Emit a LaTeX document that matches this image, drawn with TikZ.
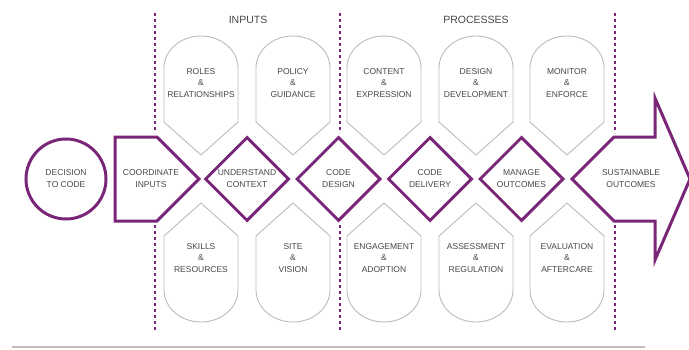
\documentclass[tikz,border=0pt]{standalone}
\usepackage{fontspec}
\setmainfont{Liberation Sans}
\usetikzlibrary{shapes.geometric, positioning}
\definecolor{codepurple}{RGB}{122,38,120}
\definecolor{shieldgray}{RGB}{190,184,190}
\definecolor{labelgray}{RGB}{70,70,70}
\tikzstyle{stage} = [draw=codepurple, line width=3pt, inner sep=0pt, text centered, align=center, text=labelgray, font=\fontsize{8.5}{12}\selectfont]
\tikzstyle{stagediamond} = [stage, diamond, minimum size=84]
\tikzstyle{stagetext} = [inner sep=0pt, align=center, text=labelgray, font=\fontsize{8.5}{12}\selectfont]
\tikzstyle{shieldline} = [draw=shieldgray, line width=0.9pt, line join=round]
\tikzstyle{shieldtext} = [inner sep=0pt, align=center, text=labelgray, font=\fontsize{8.5}{11.5}\selectfont]
\tikzstyle{heading} = [inner sep=0pt, text=labelgray, font=\fontsize{10.5}{12}\selectfont]
\tikzstyle{divider} = [draw=codepurple, line width=1.2pt, dash pattern=on 3pt off 3pt]
\tikzstyle{outline} = [draw=codepurple, line width=3pt, line join=miter]

\begin{document}
\begin{tikzpicture}[x=1pt, y=1pt]
\useasboundingbox (0,0) rectangle (689,349);

% headings
\node (inputs) [heading] at (248,329) {INPUTS};
\node (processes) [heading] at (476,329) {PROCESSES};

% upper shields
\foreach \x/\name/\txt in {201/roles/{ROLES\\\&\\RELATIONSHIPS}, 293/policy/{POLICY\\\&\\GUIDANCE}, 384/content/{CONTENT\\\&\\EXPRESSION}, 476/designdev/{DESIGN\\\&\\DEVELOPMENT}, 567/monitor/{MONITOR\\\&\\ENFORCE}} {
  \draw [shieldline] (\x-37,227) -- (\x-37,281) arc[start angle=180, end angle=0, x radius=37, y radius=32] -- (\x+37,227) -- (\x,194) -- cycle;
  \node (\name) [shieldtext] at (\x,266) {\txt};
}

% lower shields
\foreach \x/\name/\txt in {201/skills/{SKILLS\\\&\\RESOURCES}, 293/site/{SITE\\\&\\VISION}, 384/engage/{ENGAGEMENT\\\&\\ADOPTION}, 476/assess/{ASSESSMENT\\\&\\REGULATION}, 567/evaluate/{EVALUATION\\\&\\AFTERCARE}} {
  \draw [shieldline] (\x-37,113) -- (\x-37,59) arc[start angle=180, end angle=360, x radius=37, y radius=32] -- (\x+37,113) -- (\x,146) -- cycle;
  \node (\name) [shieldtext] at (\x,91) {\txt};
}

% dividers
\foreach \x in {155,340,615} {
  \draw [divider] (\x,336) -- (\x,216);
  \draw [divider] (\x,124) -- (\x,19);
}

% central band
\node (decision) [stage, circle, minimum size=80] at (66,170) {DECISION\\TO CODE};
\draw [outline] (115,212) -- (157,212) -- (199,170) -- (157,128) -- (115,128) -- cycle;
\node (coordinate) [stagetext] at (151,170) {COORDINATE\\INPUTS};
\node (understand) [stagediamond] at (247,170) {UNDERSTAND\\CONTEXT};
\node (codedesign) [stagediamond] at (338.5,170) {CODE\\DESIGN};
\node (delivery) [stagediamond] at (430,170) {CODE\\DELIVERY};
\node (manage) [stagediamond] at (521.5,170) {MANAGE\\OUTCOMES};
\draw [outline] (572,170) -- (614,212) -- (655,212) -- (655,251) -- (690,170) -- (655,89) -- (655,128) -- (614,128) -- cycle;
\node (sustain) [stagetext] at (631,170) {SUSTAINABLE\\OUTCOMES};

% base rule
\draw [draw=black!25, line width=1.5pt] (12,2) -- (645,2);

\end{tikzpicture}
\end{document}
